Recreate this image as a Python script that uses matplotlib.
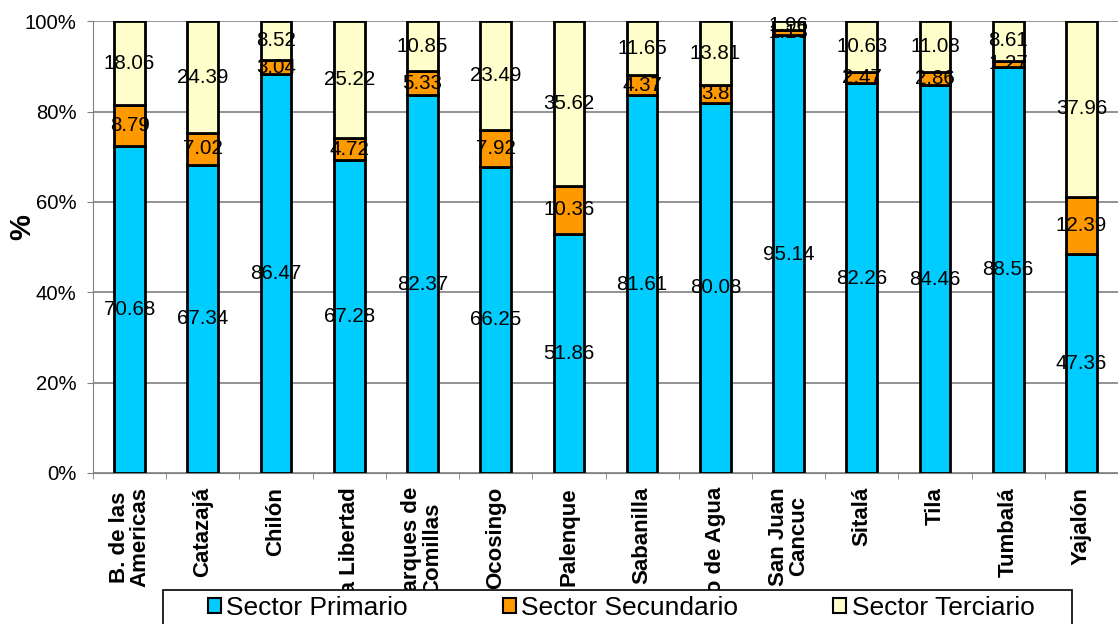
import matplotlib
matplotlib.use("Agg")
import matplotlib.pyplot as plt
from matplotlib.patches import Patch, Rectangle
import numpy as np

plt.rcParams['font.family'] = ['Liberation Sans', 'DejaVu Sans']

municipios = ['B. de las\nAmericas', 'Catazajá', 'Chilón', 'La Libertad',
              'Marques de\nComillas', 'Ocosingo', 'Palenque', 'Sabanilla',
              'Salto de Agua', 'San Juan\nCancuc', 'Sitalá', 'Tila',
              'Tumbalá', 'Yajalón']
primario = [70.68, 67.34, 86.47, 67.28, 82.37, 66.25, 51.86, 81.61,
            80.08, 95.14, 82.26, 84.46, 88.56, 47.36]
secundario = [8.79, 7.02, 3.04, 4.72, 5.33, 7.92, 10.36, 4.37,
              3.8, 1.13, 2.47, 2.86, 1.27, 12.39]
terciario = [18.06, 24.39, 8.52, 25.22, 10.85, 23.49, 35.62, 11.65,
             13.81, 1.96, 10.63, 11.08, 8.61, 37.96]

series = [('Sector Primario', primario, '#00CCFF'),
          ('Sector Secundario', secundario, '#FF9900'),
          ('Sector Terciario', terciario, '#FFFFCC')]

fig = plt.figure(figsize=(11.18, 6.24), dpi=100)
ax = fig.add_axes([0.0832, 0.242, 0.9168, 0.724])

x = np.arange(len(municipios))
total = np.array(primario) + np.array(secundario) + np.array(terciario)
bottom = np.zeros(len(municipios))
for name, vals, color in series:
    pct = np.array(vals) / total * 100
    ax.bar(x, pct, 0.42, bottom=bottom, color=color, edgecolor='black',
           linewidth=2, zorder=3)
    for xi, b, h, v in zip(x, bottom, pct, vals):
        ax.text(xi, b + h / 2, f'{v:g}', ha='center', va='center',
                fontsize=14.8, zorder=4)
    bottom += pct

ax.set_xlim(-0.5, len(municipios) - 0.5)
ax.set_ylim(0, 100)
ax.set_yticks(np.arange(0, 101, 20))
ax.set_yticklabels([f'{v}%' for v in range(0, 101, 20)], fontsize=14.6)
ax.yaxis.grid(True, color='#808080', linewidth=1.2, zorder=0)
fig.text(22 / 1118, 1 - 227 / 624, '%', rotation=90, ha='center', va='center',
         fontsize=21, fontweight='bold')

ax.set_xticks(x)
ax.set_xticklabels(municipios, rotation=90, ha='center', va='top',
                   fontsize=16, fontweight='bold', multialignment='center',
                   linespacing=1.0)
ax.set_xticks(np.arange(-0.5, len(municipios), 1), minor=True)
ax.tick_params(axis='x', which='major', length=0, pad=10)
ax.tick_params(axis='x', which='minor', length=4, color='#808080')
ax.tick_params(axis='y', length=4, color='#808080', pad=8)

for side in ['top', 'right']:
    ax.spines[side].set_visible(False)
ax.spines['left'].set_color('#808080')
ax.spines['bottom'].set_color('#808080')

# legend box (covers the bottom of long labels, like the original)
box = Rectangle((163 / 1118, -0.05), 909 / 1118, 0.05 + 34 / 624,
                transform=fig.transFigure, facecolor='white',
                edgecolor='black', linewidth=1.2, zorder=4)
fig.add_artist(box)
handles = [Patch(facecolor=c, edgecolor='black', linewidth=1.5, label=n)
           for n, _, c in series]
leg = fig.legend(handles=handles, loc='center', ncol=3,
                 bbox_to_anchor=(621 / 1118, 1 - 608 / 624),
                 fontsize=19, frameon=False, borderaxespad=0,
                 handlelength=0.5, handleheight=0.5, handletextpad=0.2,
                 columnspacing=3.6)
leg.set_zorder(5)

fig.savefig('out.png', dpi=100)
